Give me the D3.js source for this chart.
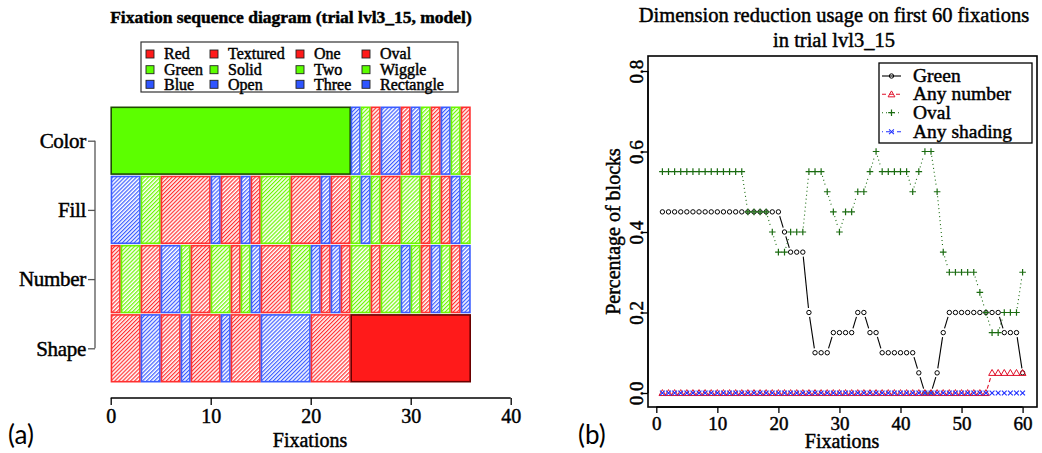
<!DOCTYPE html>
<html><head><meta charset="utf-8">
<script src="https://cdn.jsdelivr.net/npm/d3@7"></script>
<style>body{margin:0;background:#fff}svg{display:block}
svg text{stroke:#000;stroke-width:0.45px;paint-order:stroke}</style>
</head><body>
<svg id="c" width="1042" height="453"></svg>
<script>
// ---------------- DATA ----------------
// Panel (a): fixation sequence diagram, one letter per fixation (R/G/B category)
const rowNames = ["Color", "Fill", "Number", "Shape"];
const colorSeq  = "GGGGGGGGGGGGGGGGGGGGGGGGBGRBBRBGRBGR";
const fillSeq   = "BBBGGRRRRRBRRBRGGGRRRBRRGBGRRGGRGRBG";
const numberSeq = "RGGRRBBGRRGGRGBRRRGGBRBRGGRGGBGRBGRB";
const shapeSeq  = "RRRBBRRBRRRBRRRBBBBBRRRRRRRRRRRRRRRR";
// reduced (solid) dimension intervals
const reducedRow   = ["Color", "Shape"];
const reducedStart = [0, 24];
const reducedEnd   = [24, 36];
const legendCols = [
  ["Red", "Green", "Blue"],
  ["Textured", "Solid", "Open"],
  ["One", "Two", "Three"],
  ["Oval", "Wiggle", "Rectangle"]
];
const xTicksA = [0, 10, 20, 30, 40];

// Panel (b): dimension reduction usage
const fixations = [1,2,3,4,5,6,7,8,9,10,11,12,13,14,15,16,17,18,19,20,21,22,23,24,25,26,27,28,29,30,
  31,32,33,34,35,36,37,38,39,40,41,42,43,44,45,46,47,48,49,50,51,52,53,54,55,56,57,58,59,60];
const greenVals = [0.45,0.45,0.45,0.45,0.45,0.45,0.45,0.45,0.45,0.45,0.45,0.45,0.45,0.45,0.45,0.45,0.45,0.45,0.45,0.45,
  0.40,0.35,0.35,0.35,0.20,0.10,0.10,0.10,0.15,0.15,0.15,0.15,0.20,0.20,0.15,0.15,0.10,0.10,0.10,0.10,
  0.10,0.10,0.05,0.00,0.00,0.05,0.15,0.20,0.20,0.20,0.20,0.20,0.20,0.20,0.20,0.20,0.15,0.15,0.15,0.05];
const anyNumberVals = [0,0,0,0,0,0,0,0,0,0,0,0,0,0,0,0,0,0,0,0,0,0,0,0,0,0,0,0,0,0,
  0,0,0,0,0,0,0,0,0,0,0,0,0,0,0,0,0,0,0,0,0,0,0,0,0.05,0.05,0.05,0.05,0.05,0.05];
const ovalVals = [0.55,0.55,0.55,0.55,0.55,0.55,0.55,0.55,0.55,0.55,0.55,0.55,0.55,0.55,0.45,0.45,0.45,0.45,0.40,0.35,
  0.35,0.40,0.40,0.40,0.55,0.55,0.55,0.50,0.45,0.40,0.45,0.45,0.50,0.50,0.55,0.60,0.55,0.55,0.55,0.55,
  0.55,0.50,0.55,0.60,0.60,0.50,0.35,0.30,0.30,0.30,0.30,0.30,0.25,0.20,0.15,0.15,0.20,0.20,0.20,0.30];
const anyShadingVals = [0,0,0,0,0,0,0,0,0,0,0,0,0,0,0,0,0,0,0,0,0,0,0,0,0,0,0,0,0,0,
  0,0,0,0,0,0,0,0,0,0,0,0,0,0,0,0,0,0,0,0,0,0,0,0,0,0,0,0,0,0];
const seriesNames = ["Green", "Any number", "Oval", "Any shading"];
const xTicksB = [0, 10, 20, 30, 40, 50, 60];
const yTicksB = [0, 0.2, 0.4, 0.6, 0.8];

// ---------------- STYLE ----------------
const SERIF = "'Liberation Serif','Times New Roman',serif";
const pal = {R: "#ff1a1a", G: "#5cff00", B: "#2f55ff"};
const palHatch = {R: "#ff3030", G: "#6cf500", B: "#3a5cff"};
const solidBorder = {R: "#6a0000", G: "#1f4a00", B: "#001060"};

const svg = d3.select("#c");
const defs = svg.append("defs");
Object.keys(palHatch).forEach(k => {
  const p = defs.append("pattern").attr("id", "h" + k)
    .attr("patternUnits", "userSpaceOnUse").attr("width", 2.8).attr("height", 6)
    .attr("patternTransform", "rotate(45)");
  p.append("rect").attr("width", 2.8).attr("height", 6).attr("fill", "#fff");
  p.append("line").attr("x1", 0.6).attr("y1", 0).attr("x2", 0.6).attr("y2", 6)
    .attr("stroke", palHatch[k]).attr("stroke-width", 1.2);
});

// ================= PANEL (a) =================
const xA = d3.scaleLinear().domain([0, 40]).range([110.7, 510.7]);
const yA = d3.scalePoint().domain(rowNames).range([140.7, 348.3]);
const barH = yA.step() * 0.965;
const seqs = {Color: colorSeq, Fill: fillSeq, Number: numberSeq, Shape: shapeSeq};

function runsOf(row) {
  const s = seqs[row];
  const out = [];
  for (let i = 0; i < s.length; i++) {
    let solid = false;
    reducedRow.forEach((r, j) => { if (r === row && i >= reducedStart[j] && i < reducedEnd[j]) solid = true; });
    const last = out[out.length - 1];
    if (last && last.c === s[i] && last.solid === solid) last.end = i + 1;
    else out.push({row, c: s[i], solid, start: i, end: i + 1});
  }
  return out;
}
const gA = svg.append("g");
rowNames.forEach(row => {
  gA.selectAll(null).data(runsOf(row)).enter().append("rect")
    .attr("x", d => xA(d.start) + (d.solid ? 0.5 : 0.75))
    .attr("width", d => xA(d.end) - xA(d.start) - (d.solid ? 1 : 1.5))
    .attr("y", d => yA(d.row) - barH / 2)
    .attr("height", barH)
    .attr("fill", d => d.solid ? pal[d.c] : "url(#h" + d.c + ")")
    .attr("stroke", d => d.solid ? solidBorder[d.c] : palHatch[d.c])
    .attr("stroke-width", 1.6);
});

// axes of (a)
const axA = gA.append("g").attr("transform", "translate(0,398)")
  .call(d3.axisBottom(xA).tickValues(xTicksA).tickSize(7).tickPadding(4).tickFormat(d3.format("d")));
axA.select(".domain").attr("d", `M${xA(0)},0H${xA(40)}`).attr("stroke", "#000").attr("stroke-width", 1.3);
axA.selectAll(".tick line").attr("stroke-width", 1.3);
axA.selectAll("text").attr("font-family", SERIF).attr("font-size", 20).attr("fill", "#000");
const ayA = gA.append("g").attr("transform", "translate(95,0)")
  .call(d3.axisLeft(yA).tickSize(7).tickPadding(2));
ayA.select(".domain").attr("d", `M0,${yA(rowNames[0])}V${yA(rowNames[3])}`).attr("stroke", "#555").attr("stroke-width", 1.3);
ayA.selectAll(".tick line").attr("stroke", "#555").attr("stroke-width", 1.3);
ayA.selectAll("text").attr("font-family", SERIF).attr("font-size", 21).attr("fill", "#000")
  .attr("letter-spacing", -0.3);

gA.append("text").attr("x", 310).attr("y", 447).attr("text-anchor", "middle")
  .attr("font-family", SERIF).attr("font-size", 20).text("Fixations");
gA.append("text").attr("x", 291).attr("y", 23).attr("text-anchor", "middle")
  .attr("font-family", SERIF).attr("font-weight", "bold").attr("font-size", 17.5)
  .text("Fixation sequence diagram (trial lvl3_15, model)");

// legend (a)
const legA = gA.append("g");
legA.append("rect").attr("x", 141).attr("y", 42).attr("width", 317).attr("height", 50)
  .attr("fill", "#fff").attr("stroke", "#333").attr("stroke-width", 1.2);
const legSqX = [146, 210, 296, 362];
const legTxX = [164, 228, 314, 380];
const legRowY = [54, 69.7, 84.3];
const letters = ["R", "G", "B"];
legendCols.forEach((col, ci) => {
  col.forEach((lab, ri) => {
    legA.append("rect").attr("x", legSqX[ci]).attr("y", legRowY[ri] - 4)
      .attr("width", 8).attr("height", 8).attr("fill", pal[letters[ri]])
      .attr("stroke", "#222").attr("stroke-width", 0.9);
    legA.append("text").attr("x", legTxX[ci]).attr("y", legRowY[ri] + 5.3)
      .attr("font-family", SERIF).attr("font-size", 16).text(lab);
  });
});

// ================= PANEL (b) =================
const xB = d3.scaleLinear().domain([-1.36, 62.36]).range([648, 1037]);
const yB = d3.scaleLinear().domain([-0.0348, 0.8373]).range([407, 56]);
const gB = svg.append("g");
gB.append("rect").attr("x", 648).attr("y", 56).attr("width", 389).attr("height", 351)
  .attr("fill", "none").attr("stroke", "#000").attr("stroke-width", 1.6);

const axB = gB.append("g").attr("transform", "translate(0,407)")
  .call(d3.axisBottom(xB).tickValues(xTicksB).tickSize(6).tickPadding(4).tickFormat(d3.format("d")));
axB.select(".domain").attr("d", `M${xB(0)},0H${xB(60)}`).attr("stroke", "#000").attr("stroke-width", 1.3);
axB.selectAll(".tick line").attr("stroke-width", 1.3);
axB.selectAll("text").attr("font-family", SERIF).attr("font-size", 19).attr("fill", "#000");
const ayB = gB.append("g").attr("transform", "translate(648,0)")
  .call(d3.axisLeft(yB).tickValues(yTicksB).tickSize(6).tickPadding(4).tickFormat(d3.format(".1f")));
ayB.select(".domain").attr("d", `M0,${yB(0)}V${yB(0.8)}`).attr("stroke", "#000").attr("stroke-width", 1.3);
ayB.selectAll(".tick line").attr("stroke-width", 1.3);
ayB.selectAll(".tick text").each(function() {
  d3.select(this).attr("x", null).attr("dy", null).attr("y", 0).attr("text-anchor", "middle")
    .attr("transform", "translate(-5,0) rotate(-90)")
    .attr("font-family", SERIF).attr("font-size", 19).attr("fill", "#000");
});

gB.append("text").attr("x", 842).attr("y", 448).attr("text-anchor", "middle")
  .attr("font-family", SERIF).attr("font-size", 20).text("Fixations");
gB.append("text").attr("transform", `translate(620,${(56 + 407) / 2}) rotate(-90)`)
  .attr("text-anchor", "middle").attr("font-family", SERIF).attr("font-size", 20)
  .text("Percentage of blocks");
gB.append("text").attr("x", 834).attr("y", 22).attr("text-anchor", "middle")
  .attr("font-family", SERIF).attr("font-size", 20.5).text("Dimension reduction usage on first 60 fixations");
gB.append("text").attr("x", 834).attr("y", 47).attr("text-anchor", "middle")
  .attr("font-family", SERIF).attr("font-size", 20.5).text("in trial lvl3_15");

const series = [
  {name: seriesNames[0], vals: greenVals, color: "#000", dash: null, pch: "circle"},
  {name: seriesNames[1], vals: anyNumberVals, color: "#e0102a", dash: "4,3", pch: "triangle"},
  {name: seriesNames[2], vals: ovalVals, color: "#1a6b10", dash: "1,3", pch: "plus"},
  {name: seriesNames[3], vals: anyShadingVals, color: "#2030ff", dash: "1,3,4,3", pch: "cross"}
];
const GAP = 4.5;
function marker(g, pch, cx, cy, color) {
  if (pch === "circle") {
    g.append("circle").attr("cx", cx).attr("cy", cy).attr("r", 2.2)
      .attr("fill", "none").attr("stroke", color).attr("stroke-width", 1);
  } else if (pch === "triangle") {
    const s = 3.4;
    g.append("path").attr("d", `M${cx},${cy - s}L${cx + s},${cy + s * 0.75}L${cx - s},${cy + s * 0.75}Z`)
      .attr("fill", "none").attr("stroke", color).attr("stroke-width", 1);
  } else if (pch === "plus") {
    const s = 3.3;
    g.append("path").attr("d", `M${cx - s},${cy}H${cx + s}M${cx},${cy - s}V${cy + s}`)
      .attr("stroke", color).attr("stroke-width", 1.2);
  } else {
    const s = 2.4;
    g.append("path").attr("d", `M${cx - s},${cy - s}L${cx + s},${cy + s}M${cx - s},${cy + s}L${cx + s},${cy - s}`)
      .attr("stroke", color).attr("stroke-width", 1.1);
  }
}
series.forEach(s => {
  const g = gB.append("g");
  const pts = fixations.map((f, i) => [xB(f), yB(s.vals[i])]);
  for (let i = 0; i < pts.length - 1; i++) {
    const [x0, y0] = pts[i], [x1, y1] = pts[i + 1];
    const L = Math.hypot(x1 - x0, y1 - y0);
    if (L > 2 * GAP) {
      const ux = (x1 - x0) / L, uy = (y1 - y0) / L;
      g.append("line").attr("x1", x0 + ux * GAP).attr("y1", y0 + uy * GAP)
        .attr("x2", x1 - ux * GAP).attr("y2", y1 - uy * GAP)
        .attr("stroke", s.color).attr("stroke-width", 1.1)
        .attr("stroke-dasharray", s.dash);
    }
  }
  pts.forEach(p => marker(g, s.pch, p[0], p[1], s.color));
});

// legend (b)
const legB = gB.append("g");
legB.append("rect").attr("x", 879).attr("y", 63).attr("width", 153).attr("height", 80)
  .attr("fill", "#fff").attr("stroke", "#000").attr("stroke-width", 1.3);
const legBY = [76, 94.3, 112.7, 131.7];
series.forEach((s, i) => {
  legB.append("line").attr("x1", 882).attr("x2", 901).attr("y1", legBY[i]).attr("y2", legBY[i])
    .attr("stroke", s.color).attr("stroke-width", 1.1).attr("stroke-dasharray", s.dash);
  marker(legB, s.pch, 891.5, legBY[i], s.color);
  legB.append("text").attr("x", 913).attr("y", legBY[i] + 6)
    .attr("font-family", SERIF).attr("font-size", 19.5).text(s.name);
});

// panel tags
svg.append("text").attr("x", 8).attr("y", 444).attr("font-family", "Lato, 'Open Sans', sans-serif")
  .attr("font-size", 26).style("stroke-width", "0px").text("(a)");
svg.append("text").attr("x", 578).attr("y", 444).attr("font-family", "Lato, 'Open Sans', sans-serif")
  .attr("font-size", 26).style("stroke-width", "0px").text("(b)");
</script>
</body></html>
